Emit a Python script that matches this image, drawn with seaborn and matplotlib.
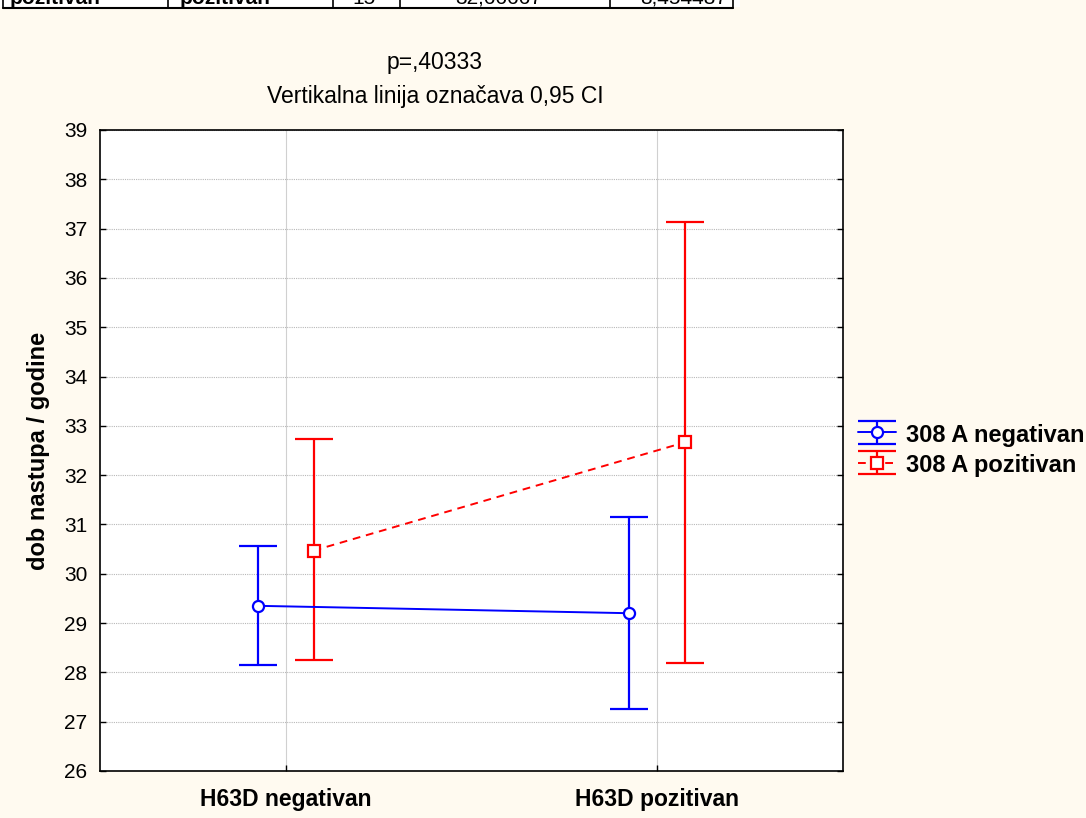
import numpy as np
import pandas as pd
import matplotlib
matplotlib.use("Agg")
import matplotlib.pyplot as plt
from matplotlib.lines import Line2D
from matplotlib.legend_handler import HandlerTuple
import seaborn as sns

# ---- data ----
categories = ["H63D negativan", "H63D pozitivan"]
series = ["308 A negativan", "308 A pozitivan"]
means_neg = [29.35, 29.20]
lower_neg = [28.15, 27.26]
upper_neg = [30.57, 31.15]
means_poz = [30.47, 32.667]
lower_poz = [28.25, 28.19]
upper_poz = [32.73, 37.14]
yticks = list(range(26, 40))
title_lines = ["p=,40333", "Vertikalna linija označava 0,95 CI"]
ylabel = "dob nastupa / godine"
table_cells = ["pozitivan", "pozitivan", "15", "32,66667", "8,454487"]

colors = ["#0000FF", "#FF0000"]
offsets = [-0.075, 0.075]
markers = ["o", "s"]
linestyles = ["-", (0, (4, 3))]

sns.set_style("white")
plt.rcParams["font.family"] = ["Liberation Sans", "DejaVu Sans"]
plt.rcParams["text.color"] = "black"
plt.rcParams["axes.labelcolor"] = "black"
plt.rcParams["xtick.color"] = "black"
plt.rcParams["ytick.color"] = "black"

fig = plt.figure(figsize=(10.86, 8.18), dpi=100, facecolor="#FFFAF0")
ax = fig.add_axes([100 / 1086, 1 - 771 / 818, 743 / 1086, 641 / 818])
ax.set_facecolor("white")

rows = []
for s, m in zip(series, [means_neg, means_poz]):
    for i, c in enumerate(categories):
        rows.append({"series": s, "cat": c, "idx": i, "mean": m[i]})
df = pd.DataFrame(rows)
df["x"] = df["idx"] + df["series"].map(dict(zip(series, offsets)))

sns.lineplot(data=df, x="x", y="mean", hue="series", style="series",
             palette=dict(zip(series, colors)),
             markers=dict(zip(series, markers)),
             dashes=dict(zip(series, ["", (4, 3)])),
             markersize=8, linewidth=1.4, legend=False, ax=ax)
for ln in ax.lines:
    ln.set_markeredgecolor(ln.get_color())
    ln.set_markerfacecolor("white")
    ln.set_markeredgewidth(1.6)
    ln.set_zorder(5)

handles = []
for s, m, lo, hi, col, off, mk, ls in zip(series, [means_neg, means_poz],
                                            [lower_neg, lower_poz], [upper_neg, upper_poz],
                                            colors, offsets, markers, linestyles):
    m = np.array(m); lo = np.array(lo); hi = np.array(hi)
    x = np.arange(len(categories)) + off
    eb = ax.errorbar(x, m, yerr=[m - lo, hi - m], fmt="none", ecolor=col,
                     elinewidth=1.6, capsize=13.5, capthick=1.6, zorder=3)
    proxy = Line2D([], [], color=col, linestyle=ls, linewidth=1.4, marker=mk,
                   markersize=8, markerfacecolor="white", markeredgecolor=col,
                   markeredgewidth=1.6)
    handles.append((eb, proxy))

ax.set_xlim(-0.5, 1.5)
ax.set_ylim(26, 39)
ax.set_yticks(yticks)
ax.set_xticks(range(len(categories)))
ax.set_xticklabels(categories, fontweight="bold", fontsize=16.5)
ax.tick_params(axis="y", labelsize=15, direction="in", length=4, width=1,
               left=True, right=True, pad=9)
ax.tick_params(axis="x", direction="in", length=4, width=1, bottom=True, top=False, pad=12)
ax.set_xlabel("")
ax.set_ylabel(ylabel, fontsize=17, fontweight="bold", labelpad=10)
ax.yaxis.grid(True, color="#b8b8b8", linestyle=(0, (1, 1)), linewidth=0.8)
ax.xaxis.grid(True, color="#d0d0d0", linestyle="-", linewidth=0.8)
ax.set_axisbelow(True)
for sp in ax.spines.values():
    sp.set_color("black")
    sp.set_linewidth(1.2)

leg = fig.legend(handles, series, loc="upper left",
                 bbox_to_anchor=(858 / 1086, 1 - 423 / 818),
                 handler_map={tuple: HandlerTuple(ndivide=1)},
                 frameon=False, handlelength=1.6, handleheight=1.0,
                 labelspacing=0.28, handletextpad=0.45,
                 borderpad=0, borderaxespad=0,
                 prop={"weight": "bold", "size": 17})

fig.text(435 / 1086, 1 - 63 / 818, title_lines[0], ha="center", va="center", fontsize=16.5)
fig.text(435 / 1086, 1 - 96 / 818, title_lines[1], ha="center", va="center", fontsize=16.5)

# clipped table row at the very top
fig.patches.append(plt.Rectangle((0, 1 - 7 / 818), 740 / 1086, 7 / 818,
                                 transform=fig.transFigure, facecolor="white",
                                 edgecolor="none", zorder=0))
fig.add_artist(Line2D([3 / 1086, 733 / 1086], [1 - 8 / 818] * 2,
                      transform=fig.transFigure, color="black", lw=1.5))
for xv in [3, 168, 333, 400, 610, 733]:
    fig.add_artist(Line2D([xv / 1086] * 2, [1 - 8 / 818, 1],
                          transform=fig.transFigure, color="black", lw=1.2))
cell_x = [10, 180, 352, 455, 640]
for i, (cx, t) in enumerate(zip(cell_x, table_cells)):
    fig.text(cx / 1086, 1 - 4 / 818, t, ha="left", va="baseline", fontsize=15,
             fontweight="bold" if i < 2 else "normal")

fig.savefig("out.png", dpi=100, facecolor=fig.get_facecolor())
